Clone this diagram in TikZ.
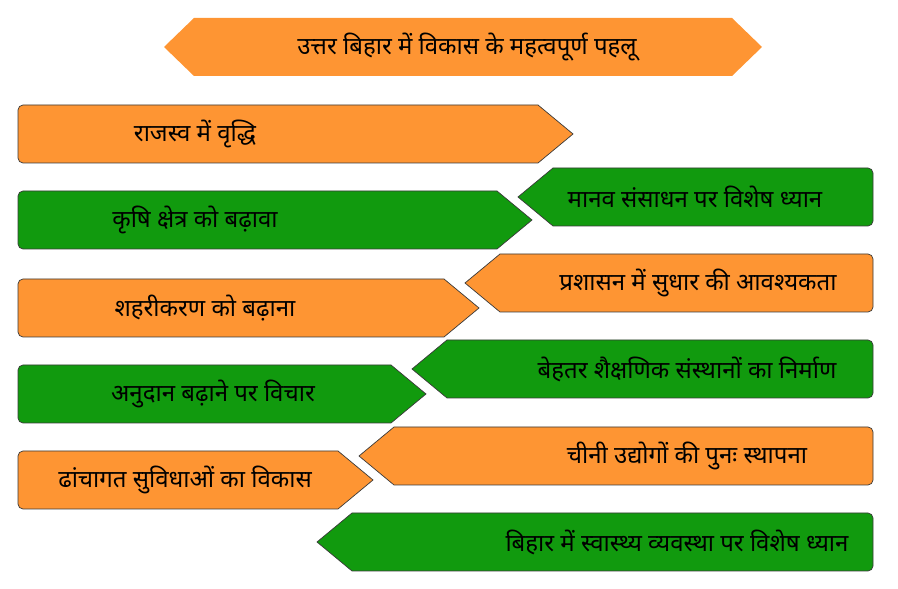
\documentclass[tikz,border=0pt]{standalone}
\usepackage{fontspec}
\newfontfamily\deva[Script=Devanagari]{Noto Sans}
\definecolor{borange}{HTML}{FE9533}
\definecolor{bgreen}{HTML}{119A0E}
\definecolor{bedge}{HTML}{3A3A3A}
\tikzset{
  obox/.style={fill=borange, draw=bedge, line width=0.7pt},
  gbox/.style={fill=bgreen, draw=bedge, line width=0.7pt},
  tbox/.style={fill=borange},
  lbl/.style={font=\deva\fontsize{24}{28}\selectfont, text=black, inner sep=0pt, anchor=center}
}
% left box: #1 top y, #2 body end x, #3 tip x, #4 style
\newcommand{\leftbox}[4]{%
  \pgfmathsetmacro{\T}{589-#1}\pgfmathsetmacro{\B}{\T-58}\pgfmathsetmacro{\C}{\T-29}%
  \draw[#4] (#2,\T) -- (#3,\C) -- (#2,\B) -- (23,\B) arc[start angle=270,end angle=180,radius=5pt] -- (18,\T-5) arc[start angle=180,end angle=90,radius=5pt] -- cycle;}
% right box: #1 top y, #2 body start x, #3 tip x, #4 style
\newcommand{\rightbox}[4]{%
  \pgfmathsetmacro{\T}{589-#1}\pgfmathsetmacro{\B}{\T-58}\pgfmathsetmacro{\C}{\T-29}%
  \draw[#4] (#2,\T) -- (868,\T) arc[start angle=90,end angle=0,radius=5pt] -- (873,\B+5) arc[start angle=0,end angle=-90,radius=5pt] -- (#2,\B) -- (#3,\C) -- cycle;}
\begin{document}
\begin{tikzpicture}[x=1pt,y=1pt]
\useasboundingbox (0,0) rectangle (898,589);
% title
\fill[tbox] (164,542) -- (194,571) -- (732,571) -- (762,542) -- (732,513) -- (194,513) -- cycle;
\node[lbl] (t0) at (467,542) {उत्तर बिहार में विकास के महत्वपूर्ण पहलू};
% left boxes
\leftbox{105}{538}{573}{obox}
\leftbox{191}{497}{532}{gbox}
\leftbox{279}{444}{479}{obox}
\leftbox{365}{391}{426}{gbox}
\leftbox{451}{338}{373}{obox}
% right boxes
\rightbox{168}{553}{518}{gbox}
\rightbox{254}{500}{465}{obox}
\rightbox{340}{447}{412}{gbox}
\rightbox{427}{394}{359}{obox}
\rightbox{513}{352}{317}{gbox}
% labels
\node[lbl] (l1) at (195,455) {राजस्व में वृद्धि};
\node[lbl] (l2) at (195,369) {कृषि क्षेत्र को बढ़ावा};
\node[lbl] (l3) at (205,281) {शहरीकरण को बढ़ाना};
\node[lbl] (l4) at (213,195) {अनुदान बढ़ाने पर विचार};
\node[lbl] (l5) at (185,109) {ढांचागत सुविधाओं का विकास};
\node[lbl] (r1) at (695,392) {मानव संसाधन पर विशेष ध्यान};
\node[lbl] (r2) at (698,306) {प्रशासन में सुधार की आवश्यकता};
\node[lbl] (r3) at (687,220) {बेहतर शैक्षणिक संस्थानों का निर्माण};
\node[lbl] (r4) at (687,133) {चीनी उद्योगों की पुनः स्थापना};
\node[lbl] (r5) at (677,47) {बिहार में स्वास्थ्य व्यवस्था पर विशेष ध्यान};
\end{tikzpicture}
\end{document}
